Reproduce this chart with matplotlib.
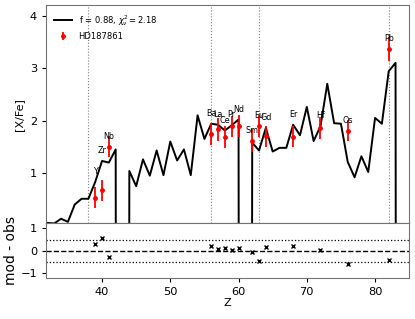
import numpy as np
import matplotlib
matplotlib.use('Agg')
import matplotlib.pyplot as plt

# model abundance pattern, Z = 32..84 (-99 = no abundance, Tc / Pm / Po)
model_z = np.arange(32, 85)
model_xfe = [0.05, 0.04, 0.13, 0.07, 0.40, 0.51, 0.51, 0.83, 1.23, 1.20,
             1.45, -99, 1.04, 0.75, 1.26, 0.95, 1.43, 0.96, 1.60, 1.24,
             1.45, 0.96, 2.10, 1.65, 1.94, 1.92, 1.81, 1.91, 2.02, -99,
             1.58, 1.43, 1.86, 1.41, 1.48, 1.48, 1.92, 1.72, 2.26, 1.61,
             1.89, 2.70, 1.95, 1.94, 1.21, 0.92, 1.32, 1.02, 2.05, 1.94,
             2.94, 3.10, -99]

# observed abundances of HD187861
obs_el = ['Y', 'Zr', 'Nb', 'Ba', 'La', 'Ce', 'Pr', 'Nd', 'Sm', 'Eu', 'Gd',
          'Er', 'Hf', 'Os', 'Pb']
obs_z = [39, 40, 41, 56, 57, 58, 59, 60, 62, 63, 64, 68, 72, 76, 82]
obs_xfe = [0.53, 0.67, 1.50, 1.74, 1.83, 1.69, 1.89, 1.89, 1.62, 1.89, 1.70,
           1.69, 1.86, 1.81, 3.37]
obs_err = [0.20, 0.20, 0.20, 0.21, 0.21, 0.21, 0.20, 0.21, 0.21, 0.21, 0.20,
           0.20, 0.21, 0.20, 0.23]

vlines_z = [38, 56, 63, 82]

model_xfe = np.array(model_xfe)
mod_at_obs = np.array([model_xfe[z - 32] for z in obs_z])
resid = mod_at_obs - np.array(obs_xfe)

fig = plt.figure(figsize=(4.15, 3.19), dpi=100)
gs = fig.add_gridspec(2, 1, height_ratios=[4, 1], hspace=0,
                      left=0.111, right=0.986, top=0.984, bottom=0.1285)
ax = fig.add_subplot(gs[0])
axr = fig.add_subplot(gs[1], sharex=ax)

for z in vlines_z:
    ax.axvline(z, color='grey', linestyle=':', linewidth=0.8)

ax.plot(model_z, model_xfe, color='black', linewidth=1.4,
        label=r'f = 0.88, $\chi^2_\nu = 2.18$')
ax.errorbar(obs_z, obs_xfe, yerr=obs_err, fmt='o', color='red',
            markersize=2.5, elinewidth=1.3, capsize=0, label='HD187861')

for el, z, m, o in zip(obs_el, obs_z, mod_at_obs, obs_xfe):
    ax.text(z, max(m, o) + 0.2, el, ha='center', va='center', fontsize=5.8)

ax.set_xlim(31.8, 85)
ax.set_ylim(0.04, 4.2)
ax.set_yticks([1, 2, 3, 4])
ax.set_ylabel('[X/Fe]', fontsize=8)
ax.tick_params(axis='x', labelbottom=False, bottom=False)
ax.tick_params(axis='y', labelsize=8.2, length=3)
ax.legend(loc='upper left', fontsize=6, frameon=False, handlelength=2.2)

axr.axhline(0, color='black', linestyle='--', linewidth=1.0)
axr.axhline(0.5, color='black', linestyle=':', linewidth=0.9)
axr.axhline(-0.5, color='black', linestyle=':', linewidth=0.9)
axr.plot(obs_z, resid, 'x', color='black', markersize=3, markeredgewidth=1.0)
axr.set_ylim(-1.22, 1.22)
axr.set_yticks([-1, 0, 1])
axr.set_xticks([40, 50, 60, 70, 80])
axr.set_xlabel('Z', fontsize=8.2, labelpad=1)
axr.set_ylabel('mod - obs', fontsize=10, labelpad=2)
axr.tick_params(labelsize=8.2, length=3)

for a in (ax, axr):
    for s in a.spines.values():
        s.set_color('0.45')

fig.savefig('out.png', dpi=100)
